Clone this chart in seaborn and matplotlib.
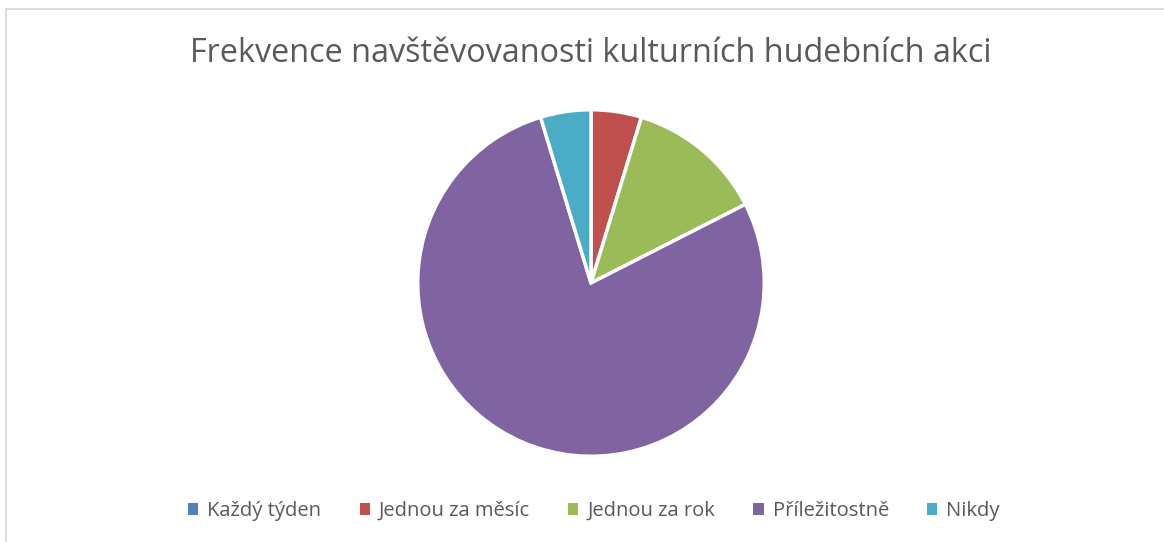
import matplotlib
matplotlib.use("Agg")
import matplotlib.pyplot as plt
import seaborn as sns
from matplotlib.patches import Patch, Rectangle

categories = ["Každý týden", "Jednou za měsíc", "Jednou za rok", "Příležitostně", "Nikdy"]
values = [0.0, 4.7, 12.8, 77.8, 4.7]
colors = ["#4F81BD", "#C0504D", "#9BBB59", "#8064A2", "#4BACC6"]
title = "Frekvence navštěvovanosti kulturních hudebních akci"

sns.set_theme(style="white")
plt.rcParams['font.family'] = ['Open Sans', 'DejaVu Sans']
palette = sns.color_palette(colors)

W, H = 1164, 542
fig = plt.figure(figsize=(W / 100, H / 100), dpi=100)
fig.patch.set_facecolor("white")

# chart border
fig.add_artist(Rectangle((5.5 / W, -0.1), 1.2, 1 - 8.5 / H + 0.1, transform=fig.transFigure,
                         fill=False, edgecolor="#D9D9D9", linewidth=1.3))

cx, cy, r = 591, 283, 175
ax = fig.add_axes([(cx - r) / W, (H - cy - r) / H, 2 * r / W, 2 * r / H])
ax.pie(values, colors=palette, startangle=90, counterclock=False, radius=1,
       wedgeprops=dict(edgecolor="white", linewidth=2.5))
ax.set_xlim(-1.01, 1.01)
ax.set_ylim(-1.01, 1.01)
ax.set_aspect("equal")
ax.axis("off")

fig.text(cx / W, 1 - 53 / H, title, ha="center", va="center", fontsize=23.3,
         color="#595959")

handles = [Patch(facecolor=c, edgecolor="none") for c in palette]
fig.legend(handles, categories, loc="center", bbox_to_anchor=(594 / W, 1 - 511 / H),
           ncol=5, frameon=False, fontsize=14.5, labelcolor="#595959",
           handlelength=0.5, handleheight=0.5, handletextpad=0.45,
           columnspacing=1.9)

fig.savefig("out.png", dpi=100)
